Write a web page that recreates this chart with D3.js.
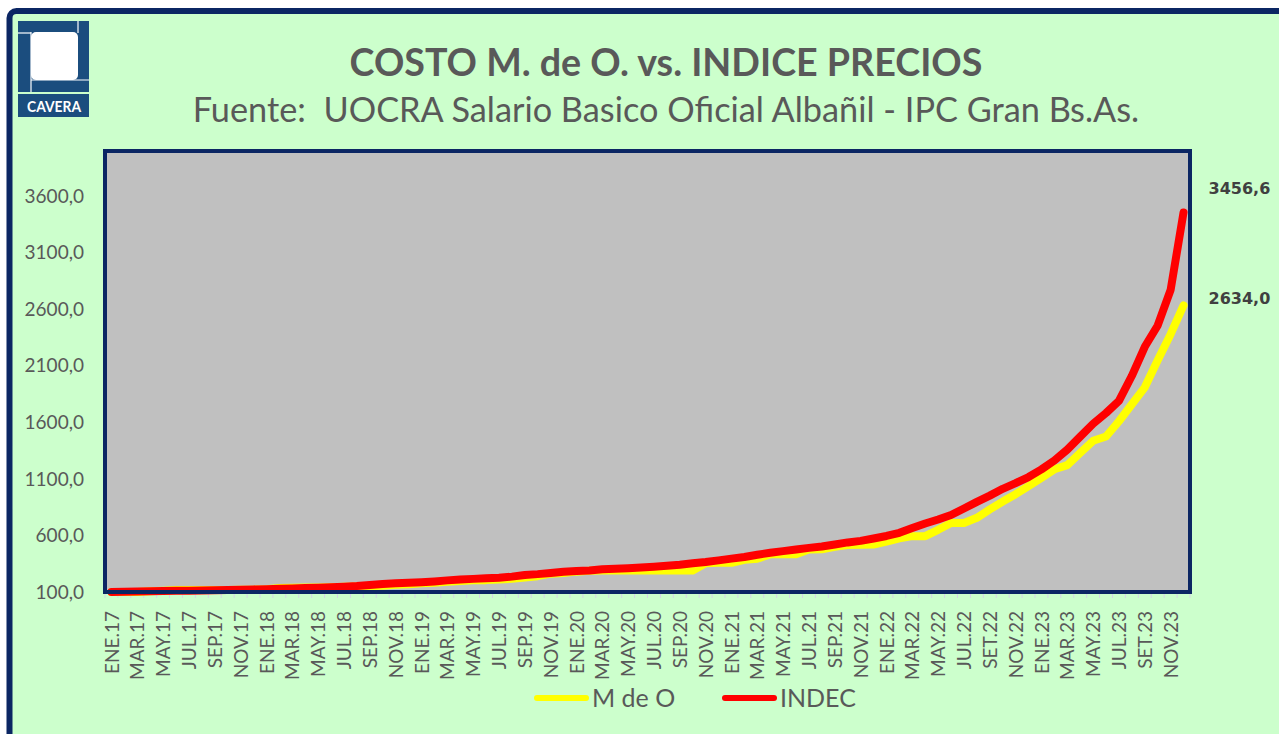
<!DOCTYPE html>
<html lang="es">
<head>
<meta charset="utf-8">
<script src="https://d3js.org/d3.v7.min.js"></script>
<style>
  body { margin: 0; background: #ffffff; }
</style>
</head>
<body>
<script>
// categorias: meses ENE.17 .. DIC.23
var years = ["17", "18", "19", "20", "21", "22", "23"];
var monthNames = ["ENE", "FEB", "MAR", "ABR", "MAY", "JUN", "JUL", "AGO", "SEP", "OCT", "NOV", "DIC"];

// rotulos del eje x (cada 2 meses, como en el original)
var tickLabels = [
  "ENE.17", "MAR.17", "MAY.17", "JUL.17", "SEP.17", "NOV.17",
  "ENE.18", "MAR.18", "MAY.18", "JUL.18", "SEP.18", "NOV.18",
  "ENE.19", "MAR.19", "MAY.19", "JUL.19", "SEP.19", "NOV.19",
  "ENE.20", "MAR.20", "MAY.20", "JUL.20", "SEP.20", "NOV.20",
  "ENE.21", "MAR.21", "MAY.21", "JUL.21", "SEP.21", "NOV.21",
  "ENE.22", "MAR.22", "MAY.22", "JUL.22", "SET.22", "NOV.22",
  "ENE.23", "MAR.23", "MAY.23", "JUL.23", "SET.23", "NOV.23"
];

// M de O (UOCRA, ENE.17 = 100)
var manoObra = [
  100, 100, 100, 106, 112, 118, 118, 118, 118, 118, 121, 121,
  124, 136, 138, 140, 140, 142, 146, 148, 150, 155, 163, 168,
  178, 182, 190, 197, 203, 205, 210, 217, 228, 240, 262, 268,
  280, 288, 290, 290, 290, 290, 290, 290, 290, 290, 355, 358,
  358, 385, 395, 433, 433, 433, 475, 478, 500, 515, 518, 520,
  545, 575, 594, 594, 650, 711, 711, 756, 830, 900, 965, 1037,
  1110, 1185, 1222, 1330, 1437, 1475, 1610, 1760, 1910, 2150, 2380, 2634
];

// INDEC (IPC, ENE.17 = 100)
var indec = [
  100.0, 102.1, 104.5, 107.3, 108.8, 110.1, 112.1, 113.6, 115.7, 117.5, 119.1, 122.8,
  125.0, 128.0, 131.0, 134.6, 137.4, 142.5, 147.0, 152.7, 162.7, 171.4, 176.8, 181.4,
  186.6, 193.7, 202.7, 209.7, 216.1, 222.0, 226.9, 235.9, 249.7, 258.0, 268.9, 279.0,
  285.3, 291.0, 300.8, 305.3, 310.0, 316.9, 323.1, 331.8, 341.2, 354.0, 365.2, 379.8,
  395.2, 409.4, 429.1, 446.5, 461.4, 476.0, 490.3, 502.4, 520.2, 538.5, 552.1, 573.3,
  595.6, 623.5, 665.5, 705.7, 741.4, 780.6, 838.4, 896.9, 952.2, 1012.6, 1062.4, 1116.8,
  1184.2, 1262.6, 1359.5, 1473.8, 1588.3, 1682.9, 1789.6, 2012.3, 2268.8, 2457.2, 2772.0, 3456.6
];

var yTicks = [100, 600, 1100, 1600, 2100, 2600, 3100, 3600];

var months = [];
years.forEach(function(y) {
  monthNames.forEach(function(m) { months.push(m + "." + y); });
});
var tickIndex = d3.range(0, months.length, 2);

var series = [
  { name: "M de O", color: "#ffff00", values: manoObra },
  { name: "INDEC", color: "#ff0000", values: indec }
];

var width = 1279, height = 734;
var plot = { left: 105, right: 1190, top: 151, bottom: 592 };
var navy = "#0b2663";
var grayText = "#595959";
var font = "Lato, 'Open Sans', sans-serif";

var svg = d3.select("body")
  .append("svg")
  .attr("width", width)
  .attr("height", height)
  .style("font-family", font);

// marco exterior
svg.append("rect")
  .attr("x", 9.5).attr("y", 11)
  .attr("width", 1320).attr("height", 800)
  .attr("rx", 7)
  .attr("fill", "#ccffcc")
  .attr("stroke", navy)
  .attr("stroke-width", 6);

// logo CAVERA
var logo = svg.append("g").attr("class", "logo");
var logoBlue = "#1b4d7e";
logo.append("rect").attr("x", 18).attr("y", 21).attr("width", 71).attr("height", 71).attr("fill", logoBlue);
logo.append("rect").attr("x", 31).attr("y", 32).attr("width", 47).attr("height", 48).attr("rx", 5).attr("fill", "#ffffff");
var logoLines = [[31, 32, 31, 92], [31, 80, 89, 80], [78, 21, 78, 33], [18, 33, 31, 33]];
logo.selectAll("line").data(logoLines).enter().append("line")
  .attr("x1", function(d) { return d[0]; }).attr("y1", function(d) { return d[1]; })
  .attr("x2", function(d) { return d[2]; }).attr("y2", function(d) { return d[3]; })
  .attr("stroke", "#ffffff").attr("stroke-width", 1.2);
logo.append("rect").attr("x", 18).attr("y", 94).attr("width", 71).attr("height", 23).attr("fill", logoBlue);
logo.append("text")
  .attr("x", 54).attr("y", 112)
  .attr("text-anchor", "middle")
  .attr("fill", "#ffffff")
  .attr("font-weight", "bold")
  .attr("font-size", 16)
  .attr("textLength", 54)
  .attr("lengthAdjust", "spacingAndGlyphs")
  .text("CAVERA");

// ajusta el tamano de letra para ocupar un ancho dado
function fitText(sel, size, target) {
  sel.attr("font-size", size);
  var w = sel.node().getComputedTextLength();
  sel.attr("font-size", size * target / w);
}

var title = svg.append("text")
  .attr("x", 666).attr("y", 76)
  .attr("text-anchor", "middle")
  .attr("fill", grayText)
  .attr("font-weight", "bold")
  .text("COSTO M. de O. vs. INDICE PRECIOS");
fitText(title, 36, 633);

var subtitle = svg.append("text")
  .attr("x", 666).attr("y", 122)
  .attr("text-anchor", "middle")
  .attr("fill", grayText)
  .style("white-space", "pre")
  .text("Fuente:  UOCRA Salario Basico Oficial Albañil - IPC Gran Bs.As.");
fitText(subtitle, 32, 947);

// escalas
var x = d3.scalePoint()
  .domain(months)
  .range([plot.left, plot.right])
  .padding(0.5);

var y = d3.scaleLinear()
  .domain([100, 4000])
  .range([plot.bottom, plot.top]);

// area del grafico
svg.append("rect")
  .attr("x", plot.left).attr("y", plot.top)
  .attr("width", plot.right - plot.left)
  .attr("height", plot.bottom - plot.top)
  .attr("fill", "#c0c0c0");

// marcas del eje x (limites de categoria)
var step = x.step();
svg.append("g")
  .selectAll("line")
  .data(d3.range(months.length + 1))
  .enter().append("line")
  .attr("x1", function(i) { return plot.left + i * step; })
  .attr("x2", function(i) { return plot.left + i * step; })
  .attr("y1", plot.bottom)
  .attr("y2", plot.bottom + 6)
  .attr("stroke", "#d6d3e6")
  .attr("stroke-width", 1);

// lineas
var line = d3.line()
  .x(function(d, i) { return x(months[i]); })
  .y(function(d) { return y(d); });

svg.append("g")
  .selectAll("path")
  .data(series)
  .enter().append("path")
  .attr("d", function(s) { return line(s.values); })
  .attr("fill", "none")
  .attr("stroke", function(s) { return s.color; })
  .attr("stroke-width", 8)
  .attr("stroke-linejoin", "round")
  .attr("stroke-linecap", "round");

// borde del area de trazado
svg.append("rect")
  .attr("x", plot.left).attr("y", plot.top)
  .attr("width", plot.right - plot.left)
  .attr("height", plot.bottom - plot.top)
  .attr("fill", "none")
  .attr("stroke", navy)
  .attr("stroke-width", 4);

// eje y
var yAxis = svg.append("g")
  .attr("transform", "translate(84,0)")
  .call(d3.axisLeft(y)
    .tickValues(yTicks)
    .tickSize(0)
    .tickFormat(function(d) { return d3.format(".1f")(d).replace(".", ","); }));
yAxis.select(".domain").remove();
yAxis.selectAll("text")
  .attr("x", 0)
  .attr("fill", grayText)
  .attr("font-size", 19)
  .attr("font-family", font);

// eje x
var xAxis = svg.append("g")
  .attr("transform", "translate(0," + plot.bottom + ")")
  .call(d3.axisBottom(x)
    .tickValues(tickIndex.map(function(i) { return months[i]; }))
    .tickSize(0)
    .tickFormat(function(d) { return tickLabels[months.indexOf(d) / 2]; }));
xAxis.select(".domain").remove();
xAxis.selectAll("text")
  .attr("transform", "translate(0,19) rotate(-90)")
  .attr("x", 0)
  .attr("y", 0)
  .attr("dy", "0.35em")
  .attr("text-anchor", "end")
  .attr("fill", grayText)
  .attr("font-size", 19)
  .attr("font-family", font);

// rotulos de los ultimos valores
var last = months.length - 1;
var endLabels = [
  { value: indec[last], dy: -18 },
  { value: manoObra[last], dy: -1 }
];
svg.append("g")
  .selectAll("text")
  .data(endLabels)
  .enter().append("text")
  .attr("x", x(months[last]) + 25)
  .attr("y", function(d) { return y(d.value) + d.dy; })
  .attr("fill", "#404040")
  .style("font-family", "'DejaVu Sans', sans-serif")
  .attr("font-weight", "bold")
  .attr("font-size", 16)
  .text(function(d) { return d3.format(".1f")(d.value).replace(".", ","); });

// leyenda
var legend = svg.append("g")
  .selectAll("g")
  .data(series)
  .enter().append("g")
  .attr("transform", function(d, i) { return "translate(" + (537 + i * 188) + ",698)"; });
legend.append("line")
  .attr("x1", 0).attr("x2", 49)
  .attr("stroke", function(d) { return d.color; })
  .attr("stroke-width", 6)
  .attr("stroke-linecap", "round");
legend.append("text")
  .attr("x", 55)
  .attr("y", 9)
  .attr("fill", grayText)
  .attr("font-size", 25)
  .text(function(d) { return d.name; });
</script>
</body>
</html>
